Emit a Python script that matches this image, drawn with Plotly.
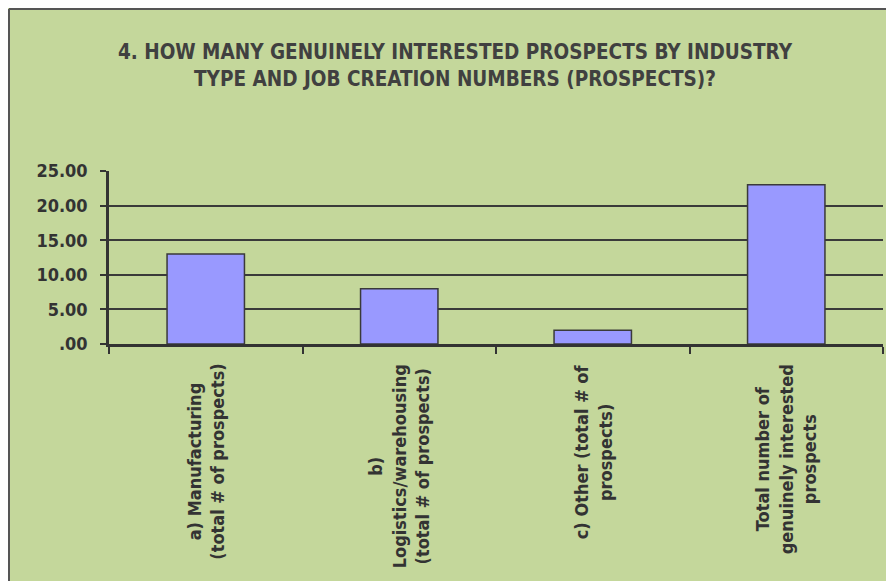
import plotly.graph_objects as go

categories = [
    "a) Manufacturing\n(total # of prospects)",
    "b)\nLogistics/warehousing\n(total # of prospects)",
    "c) Other (total # of\nprospects)",
    "Total number of\ngenuinely interested\nprospects",
]
values = [13, 8, 2, 23]
y_ticks = [0, 5, 10, 15, 20, 25]
y_tick_labels = [(f"{v:.2f}"[1:] if v == 0 else f"{v:.2f}") for v in y_ticks]
title_text = "4. HOW MANY GENUINELY INTERESTED PROSPECTS BY INDUSTRY<br>TYPE AND JOB CREATION NUMBERS (PROSPECTS)?"

GREEN = "#C4D79B"
DARK = "#333333"
LBL_FONT = "DejaVu Sans Condensed, DejaVu Sans, sans-serif"

cat_keys = [c.replace("\n", " ") for c in categories]

L, T, PW, PH = 101, 163, 774, 173
W, H = 894, 581

fig = go.Figure()
fig.add_trace(go.Bar(
    x=cat_keys, y=values,
    marker=dict(color="#9999FF", line=dict(color="#3a3a3a", width=1.5)),
    width=0.4,
    hoverinfo="x+y",
))

annotations = []
for key, lab in zip(cat_keys, categories):
    annotations.append(dict(
        x=key, xref="x", y=0, yref="paper", yshift=-18,
        text=lab.replace("\n", "<br>"), showarrow=False,
        textangle=-90, align="center", xanchor="center", yanchor="top",
        font=dict(family=LBL_FONT, size=18, color=DARK, weight="bold"),
    ))

fx = lambda px: (px - L) / PW
fy = lambda py: (T + PH - py) / PH

fig.update_layout(
    width=W, height=H,
    paper_bgcolor=GREEN, plot_bgcolor=GREEN,
    margin=dict(l=L, r=W - L - PW, t=T, b=H - T - PH),
    showlegend=False,
    title=dict(
        text=title_text, x=0.5, xref="container", xanchor="center",
        y=1 - 51 / H, yref="container", yanchor="middle",
        font=dict(family=LBL_FONT, size=20.5, color="#404040", weight="bold"),
    ),
    annotations=annotations,
    xaxis=dict(
        type="category", tickson="boundaries", ticks="outside", ticklen=7,
        tickcolor=DARK, tickwidth=1.5, showticklabels=False,
        showline=True, linecolor=DARK, linewidth=2.5, showgrid=False,
        range=[-0.5, 3.5],
    ),
    yaxis=dict(
        range=[0, 25], tickvals=y_ticks, ticktext=y_tick_labels,
        ticks="outside", ticklen=6, tickcolor=DARK, tickwidth=1.5,
        ticklabelstandoff=9,
        showline=True, linecolor=DARK, linewidth=2.5,
        showgrid=True, gridcolor="#3a3a3a", gridwidth=1.5, zeroline=False,
        tickfont=dict(family=LBL_FONT, size=18, color=DARK, weight="bold"),
    ),
    shapes=[
        dict(type="line", xref="paper", yref="paper",
             x0=fx(1), x1=fx(1), y0=fy(H + 5), y1=fy(1),
             line=dict(color="#555555", width=2), layer="above"),
        dict(type="line", xref="paper", yref="paper",
             x0=fx(1), x1=fx(W + 5), y0=fy(1), y1=fy(1),
             line=dict(color="#555555", width=2), layer="above"),
    ],
)

fig.write_html("out.html")
